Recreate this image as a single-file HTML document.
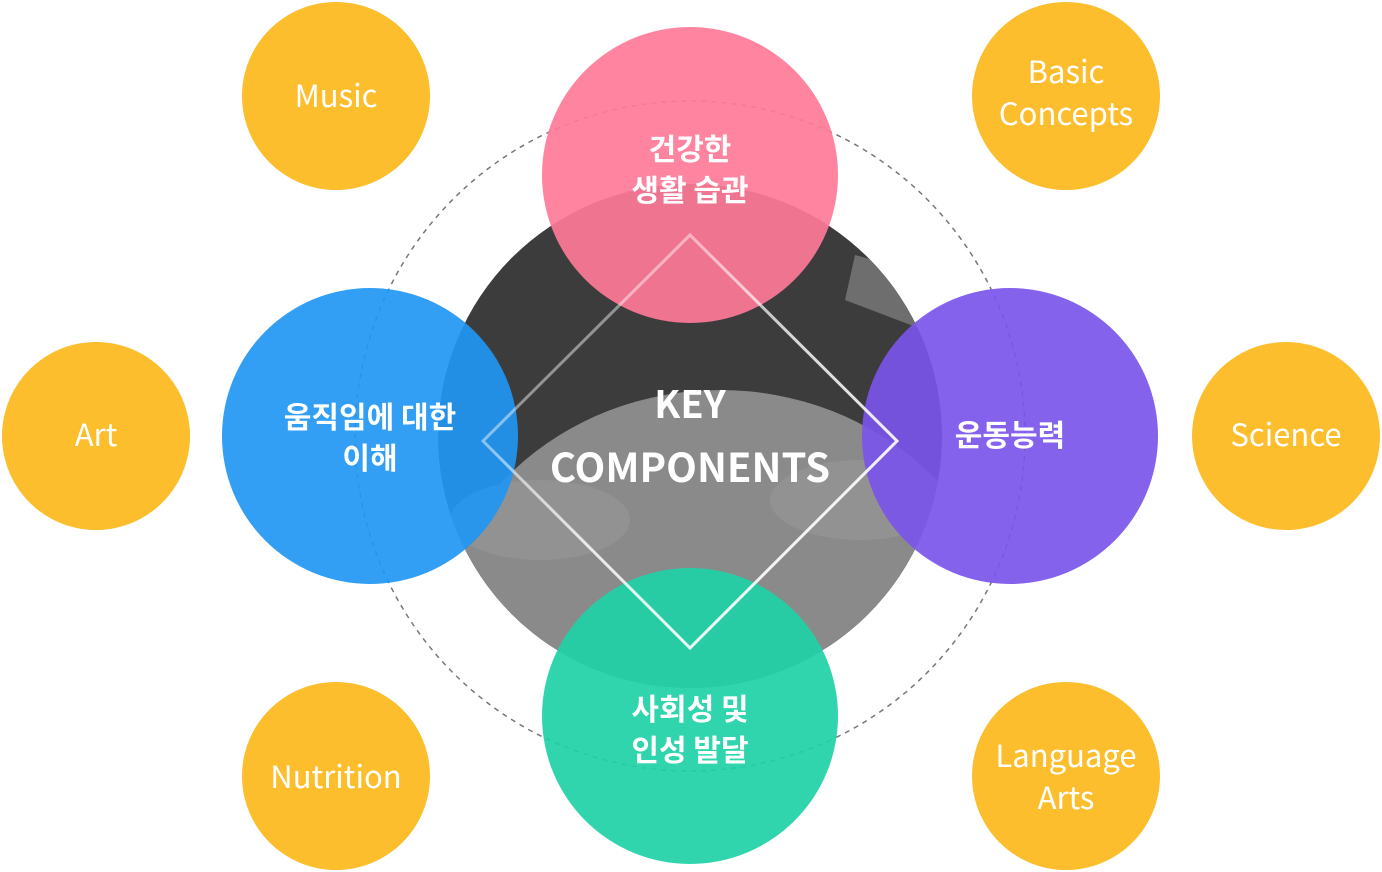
<!DOCTYPE html>
<html><head><meta charset="utf-8"><style>
html,body{margin:0;padding:0;background:#fff;width:1382px;height:872px;overflow:hidden}
svg{display:block}
text{font-family:"Noto Sans CJK KR","Liberation Sans",sans-serif}
</style></head><body>
<svg width="1382" height="872" viewBox="0 0 1382 872" xmlns="http://www.w3.org/2000/svg">
<defs>
<clipPath id="pc"><circle cx="690" cy="436" r="252"/></clipPath>
<linearGradient id="dg" x1="0" y1="0" x2="1" y2="1">
<stop offset="0" stop-color="#fff" stop-opacity="0.1"/>
<stop offset="0.5" stop-color="#fff" stop-opacity="0.8"/>
<stop offset="1" stop-color="#fff" stop-opacity="1"/>
</linearGradient>
</defs>
<circle cx="690" cy="436" r="335" fill="none" stroke="#777" stroke-width="1.5" stroke-dasharray="5,5"/>
<g clip-path="url(#pc)">
<rect x="430" y="180" width="520" height="520" fill="#3c3c3c"/>
<ellipse cx="720" cy="660" rx="290" ry="270" fill="#8a8a8a"/>
<ellipse cx="540" cy="520" rx="90" ry="40" fill="#929292"/>
<ellipse cx="860" cy="500" rx="90" ry="40" fill="#929292"/>
<polygon points="855,255 950,280 950,340 845,300" fill="#6e6e6e"/>
</g>
<g fill-opacity="0.92">
<circle cx="690" cy="175" r="148" fill="#ff7a98"/>
<circle cx="370" cy="436" r="148" fill="#2196f3"/>
<circle cx="1010" cy="436" r="148" fill="#7b55ea"/>
<circle cx="690" cy="716" r="148" fill="#20d1a6"/>
</g>
<g fill="#fdbe2d">
<circle cx="336" cy="96" r="94"/><circle cx="1066" cy="96" r="94"/>
<circle cx="96" cy="436" r="94"/><circle cx="1286" cy="436" r="94"/>
<circle cx="336" cy="776" r="94"/><circle cx="1066" cy="776" r="94"/>
</g>
<polygon points="690,235 897,441 690,648 483,441" fill="none" stroke="url(#dg)" stroke-width="3"/>
<g fill="#fff" text-anchor="middle" font-weight="bold">
<text x="690" y="418" font-size="38">KEY</text>
<text x="690" y="482" font-size="40">COMPONENTS</text>
<text x="690" y="160" font-size="30">건강한</text>
<text x="690" y="201" font-size="30">생활 습관</text>
<text x="370" y="428" font-size="30">움직임에 대한</text>
<text x="370" y="469" font-size="30">이해</text>
<text x="1010" y="446" font-size="30">운동능력</text>
<text x="690" y="720" font-size="30">사회성 및</text>
<text x="690" y="761" font-size="30">인성 발달</text>
</g>
<g fill="#fff" text-anchor="middle" font-size="31">
<text x="336" y="107">Music</text>
<text x="1066" y="83">Basic</text>
<text x="1066" y="125">Concepts</text>
<text x="96" y="446">Art</text>
<text x="1286" y="446">Science</text>
<text x="336" y="788">Nutrition</text>
<text x="1066" y="767">Language</text>
<text x="1066" y="809">Arts</text>
</g>
</svg>
</body></html>
